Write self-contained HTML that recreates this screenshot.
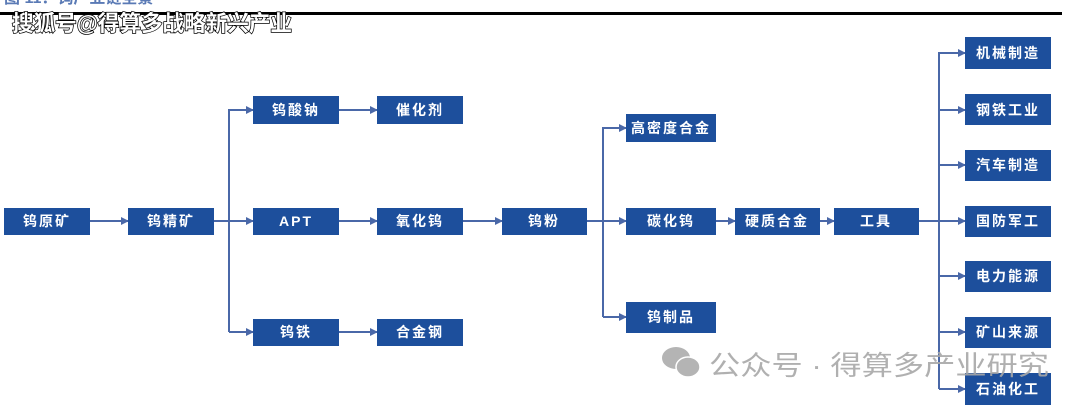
<!DOCTYPE html>
<html><head><meta charset="utf-8"><style>
html,body{margin:0;padding:0;background:#fff;}
svg{display:block;}
.b{fill:#1d4f9c;}
.t{fill:#fff;font-family:"Liberation Sans","Noto Sans CJK SC",sans-serif;font-size:14px;font-weight:bold;text-anchor:middle;dominant-baseline:central;letter-spacing:2px;}
.l{stroke:#4a68a8;stroke-width:2;fill:none;}
</style></head><body>
<svg width="1080" height="406" viewBox="0 0 1080 406" xmlns="http://www.w3.org/2000/svg">
<defs><marker id="a" markerWidth="8" markerHeight="8" refX="7" refY="4" orient="auto" markerUnits="userSpaceOnUse"><path d="M0,0 L8,4 L0,8 z" fill="#4a68a8"/></marker></defs>
<text x="4" y="3" font-family="Liberation Sans,Noto Sans CJK SC,sans-serif" font-size="16" font-weight="bold" fill="#5a7ab5">图 11：钨产业链全景</text>
<rect x="0" y="12" width="1062" height="3" fill="#000"/>
<text x="12" y="31" font-family="Liberation Sans,Noto Sans CJK SC,sans-serif" font-size="22" font-weight="bold" fill="#fff" stroke="#000" stroke-width="1.5" paint-order="stroke" textLength="280" lengthAdjust="spacingAndGlyphs">搜狐号@得算多战略新兴产业</text>
<g class="l">
<path d="M90,221 H128" marker-end="url(#a)"/>
<path d="M214,221 H253" marker-end="url(#a)"/>
<path d="M229,332 V110 H253" marker-end="url(#a)"/>
<path d="M229,332 H253" marker-end="url(#a)"/>
<path d="M339,110 H377" marker-end="url(#a)"/>
<path d="M339,221 H377" marker-end="url(#a)"/>
<path d="M339,332 H377" marker-end="url(#a)"/>
<path d="M463,221 H502" marker-end="url(#a)"/>
<path d="M587,221 H626" marker-end="url(#a)"/>
<path d="M603,317 V128 H626" marker-end="url(#a)"/>
<path d="M603,317 H626" marker-end="url(#a)"/>
<path d="M716,221 H735" marker-end="url(#a)"/>
<path d="M820,221 H834" marker-end="url(#a)"/>
<path d="M919,221 H965" marker-end="url(#a)"/>
<path d="M939,389 V53 H965" marker-end="url(#a)"/>
<path d="M939,110 H965" marker-end="url(#a)"/>
<path d="M939,165 H965" marker-end="url(#a)"/>
<path d="M939,276 H965" marker-end="url(#a)"/>
<path d="M939,332 H965" marker-end="url(#a)"/>
<path d="M939,389 H965" marker-end="url(#a)"/>
</g>
<g>
<rect class="b" x="4" y="208" width="86" height="27"/><text class="t" x="47" y="221">钨原矿</text>
<rect class="b" x="128" y="208" width="86" height="27"/><text class="t" x="171" y="221">钨精矿</text>
<rect class="b" x="253" y="96" width="86" height="28"/><text class="t" x="296" y="110">钨酸钠</text>
<rect class="b" x="253" y="208" width="86" height="27"/><text class="t" x="296" y="221">APT</text>
<rect class="b" x="253" y="319" width="86" height="27"/><text class="t" x="296" y="332">钨铁</text>
<rect class="b" x="377" y="96" width="86" height="28"/><text class="t" x="420" y="110">催化剂</text>
<rect class="b" x="377" y="208" width="86" height="27"/><text class="t" x="420" y="221">氧化钨</text>
<rect class="b" x="377" y="319" width="86" height="27"/><text class="t" x="420" y="332">合金钢</text>
<rect class="b" x="502" y="208" width="85" height="27"/><text class="t" x="544" y="221">钨粉</text>
<rect class="b" x="626" y="114" width="90" height="28"/><text class="t" x="671" y="128">高密度合金</text>
<rect class="b" x="626" y="208" width="90" height="27"/><text class="t" x="671" y="221">碳化钨</text>
<rect class="b" x="626" y="302" width="90" height="31"/><text class="t" x="671" y="317">钨制品</text>
<rect class="b" x="735" y="208" width="85" height="27"/><text class="t" x="777" y="221">硬质合金</text>
<rect class="b" x="834" y="208" width="85" height="27"/><text class="t" x="876" y="221">工具</text>
<rect class="b" x="965" y="37" width="86" height="32"/><text class="t" x="1008" y="53">机械制造</text>
<rect class="b" x="965" y="94" width="86" height="31"/><text class="t" x="1008" y="110">钢铁工业</text>
<rect class="b" x="965" y="150" width="86" height="31"/><text class="t" x="1008" y="165">汽车制造</text>
<rect class="b" x="965" y="206" width="86" height="31"/><text class="t" x="1008" y="221">国防军工</text>
<rect class="b" x="965" y="261" width="86" height="31"/><text class="t" x="1008" y="276">电力能源</text>
<rect class="b" x="965" y="317" width="86" height="31"/><text class="t" x="1008" y="332">矿山来源</text>
<rect class="b" x="965" y="373" width="86" height="32"/><text class="t" x="1008" y="389">石油化工</text>
</g>
<g fill="#b4b4b4">
<ellipse cx="676" cy="358" rx="14" ry="11"/>
<ellipse cx="688" cy="367" rx="12" ry="10" stroke="#fff" stroke-width="1.5"/>
</g>
<text x="709" y="375" font-family="Liberation Sans,Noto Sans CJK SC,sans-serif" font-size="27" fill="#a8a8a8" opacity="0.9" textLength="340" lengthAdjust="spacingAndGlyphs">公众号 · 得算多产业研究</text>
</svg>
</body></html>
